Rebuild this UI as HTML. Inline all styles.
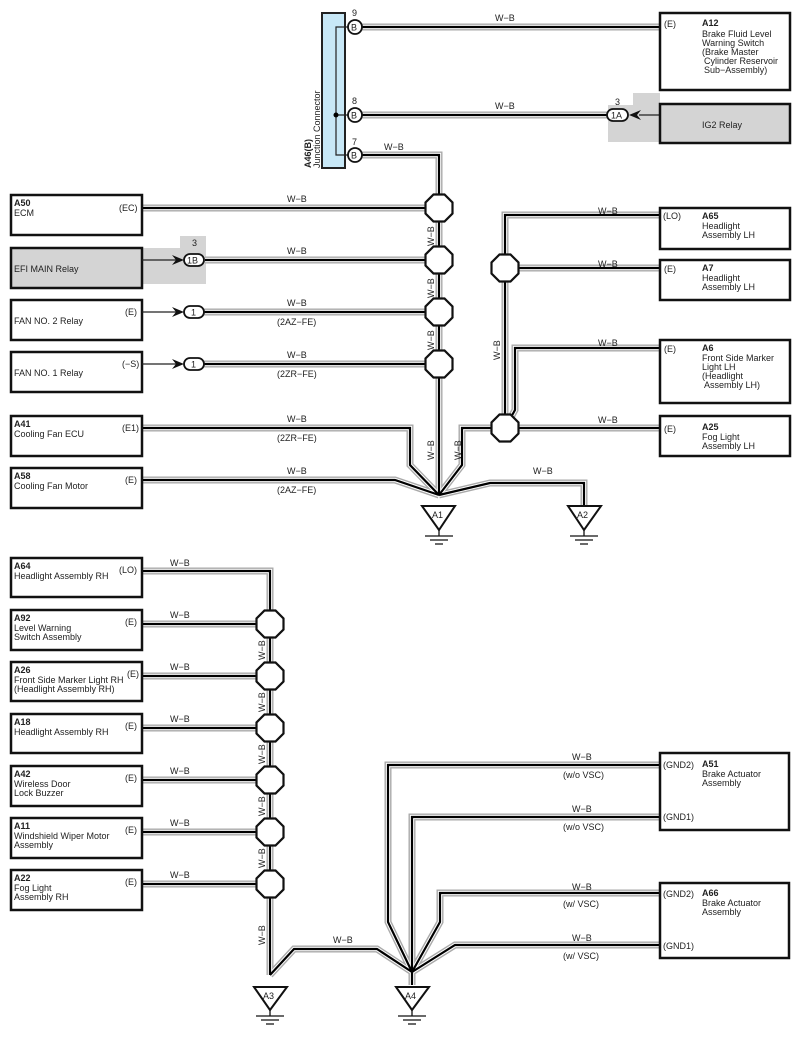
<!DOCTYPE html>
<html><head><meta charset="utf-8"><style>
html,body{margin:0;padding:0;background:#fff}
svg{display:block}
text{font-family:"Liberation Sans",sans-serif;font-size:9px;fill:#222}
.b{font-weight:bold}
.box{fill:#fff;stroke:#111;stroke-width:2.5}
.gbox{fill:#d4d4d4;stroke:#111;stroke-width:2.5}
.oct{fill:#fff;stroke:#111;stroke-width:2.2}
.thin{stroke:#222;stroke-width:1.2;fill:none}
</style></head><body>
<svg width="800" height="1040" viewBox="0 0 800 1040" xmlns="http://www.w3.org/2000/svg">
<defs>
<polygon id="oc" points="-5.5,-13.5 5.5,-13.5 13.5,-5.5 13.5,5.5 5.5,13.5 -5.5,13.5 -13.5,5.5 -13.5,-5.5"/>
<g id="wires">
<path d="M362,27 H660"/>
<path d="M362,115 H608"/>
<path d="M362,155 H439 V495"/>
<path d="M142,208 H439"/>
<path d="M205,260 H439"/>
<path d="M200,312 H439"/>
<path d="M200,364 H439"/>
<path d="M142,428 H410 V465 L439,495"/>
<path d="M142,480 H395 L439,495"/>
<path d="M660,215 H505 V428"/>
<path d="M660,268 H505"/>
<path d="M660,348 H515 V410 L505,428"/>
<path d="M660,428 H462 V465 L439,495"/>
<path d="M439,495 L490,483 H584 V508"/>
<path d="M142,571 H270 V975"/>
<path d="M142,624 H270"/>
<path d="M142,676 H270"/>
<path d="M142,728 H270"/>
<path d="M142,780 H270"/>
<path d="M142,832 H270"/>
<path d="M142,884 H270"/>
<path d="M270,975 L294,949 H377 L412,972"/>
<path d="M660,765 H388 V922 L412,972"/>
<path d="M660,817 H412 V985"/>
<path d="M660,893 H440 V922 L412,972"/>
<path d="M660,945 H455 L412,972"/>
</g>
</defs>

<path d="M180,236 H206 V284 H142 V248 H180 Z" fill="#d4d4d4"/>
<path d="M633,93 H660 V142 H608 V105 H633 Z" fill="#d4d4d4"/>

<use href="#wires" stroke="#aaa" stroke-width="7" fill="none"/>
<use href="#wires" stroke="#fff" stroke-width="4.2" fill="none"/>
<use href="#wires" stroke="#000" stroke-width="2.2" fill="none"/>

<rect x="322" y="13" width="23" height="155" fill="#c8e8f7" stroke="#222" stroke-width="2"/>
<path class="thin" d="M349,27 H336 V155 H349 M336,115 H349"/>
<circle cx="336" cy="115" r="2.5" fill="#000"/>
<g stroke="#111" stroke-width="1.8" fill="#fff">
<circle cx="355" cy="27" r="7"/><circle cx="355" cy="115" r="7"/><circle cx="355" cy="155" r="7"/>
</g>
<text x="351" y="30.5">B</text><text x="351" y="118.5">B</text><text x="351" y="158.5">B</text>
<text x="352" y="16">9</text><text x="352" y="104">8</text><text x="352" y="145">7</text>
<text class="b" transform="translate(311,168) rotate(-90)">A46(B)</text>
<text transform="translate(320,168) rotate(-90)">Junction Connector</text>

<rect class="box" x="11" y="195" width="131" height="40"/>
<text class="b" x="14" y="206">A50</text><text x="14" y="216">ECM</text><text x="119" y="211">(EC)</text>
<rect class="gbox" x="11" y="248" width="131" height="40"/>
<text x="14" y="272">EFI MAIN Relay</text>
<rect class="box" x="11" y="300" width="131" height="40"/>
<text x="14" y="324">FAN NO. 2 Relay</text><text x="125" y="315">(E)</text>
<rect class="box" x="11" y="352" width="131" height="40"/>
<text x="14" y="376">FAN NO. 1 Relay</text><text x="122" y="367">(−S)</text>
<rect class="box" x="11" y="416" width="131" height="40"/>
<text class="b" x="14" y="427">A41</text><text x="14" y="437">Cooling Fan ECU</text><text x="122" y="431">(E1)</text>
<rect class="box" x="11" y="468" width="131" height="40"/>
<text class="b" x="14" y="479">A58</text><text x="14" y="489">Cooling Fan Motor</text><text x="125" y="483">(E)</text>

<path class="thin" d="M142,260 H176 M142,312 H176 M142,364 H176"/>
<g fill="#111">
<path d="M172,255 L184,260 L172,265 L176,260 Z"/>
<path d="M172,307 L184,312 L172,317 L176,312 Z"/>
<path d="M172,359 L184,364 L172,369 L176,364 Z"/>
<path d="M641,110 L629,115 L641,120 L637,115 Z"/>
</g>
<path class="thin" d="M639,115 H660"/>
<g stroke="#111" stroke-width="1.8" fill="#fff">
<rect x="184" y="254" width="20" height="12" rx="6"/>
<rect x="184" y="306" width="20" height="12" rx="6"/>
<rect x="184" y="358" width="20" height="12" rx="6"/>
<rect x="607" y="109" width="21" height="12" rx="6"/>
</g>
<text x="187" y="263.5">1B</text><text x="191" y="315.5">1</text><text x="191" y="367.5">1</text><text x="611" y="118.5">1A</text>
<text x="192" y="246">3</text><text x="615" y="105">3</text>

<rect class="box" x="660" y="13" width="130" height="77"/>
<text x="664" y="27">(E)</text>
<text class="b" x="702" y="26">A12</text>
<text x="702" y="37">Brake Fluid Level</text><text x="702" y="46">Warning Switch</text><text x="702" y="55">(Brake Master</text><text x="704" y="64">Cylinder Reservoir</text><text x="704" y="73">Sub−Assembly)</text>
<rect class="gbox" x="660" y="104" width="130" height="39"/>
<text x="702" y="128">IG2 Relay</text>
<rect class="box" x="660" y="208" width="130" height="41"/>
<text x="663" y="219">(LO)</text><text class="b" x="702" y="219">A65</text><text x="702" y="229">Headlight</text><text x="702" y="238">Assembly LH</text>
<rect class="box" x="660" y="260" width="130" height="40"/>
<text x="664" y="272">(E)</text><text class="b" x="702" y="271">A7</text><text x="702" y="281">Headlight</text><text x="702" y="290">Assembly LH</text>
<rect class="box" x="660" y="340" width="130" height="63"/>
<text x="664" y="352">(E)</text><text class="b" x="702" y="351">A6</text><text x="702" y="361">Front Side Marker</text><text x="702" y="370">Light LH</text><text x="702" y="379">(Headlight</text><text x="704" y="388">Assembly LH)</text>
<rect class="box" x="660" y="416" width="130" height="40"/>
<text x="664" y="432">(E)</text><text class="b" x="702" y="430">A25</text><text x="702" y="440">Fog Light</text><text x="702" y="449">Assembly LH</text>

<g>
<text x="495" y="21">W−B</text><text x="495" y="109">W−B</text><text x="384" y="150">W−B</text>
<text x="287" y="202">W−B</text><text x="287" y="254">W−B</text><text x="287" y="306">W−B</text>
<text x="277" y="325">(2AZ−FE)</text><text x="287" y="358">W−B</text><text x="277" y="377">(2ZR−FE)</text>
<text x="287" y="422">W−B</text><text x="277" y="441">(2ZR−FE)</text>
<text x="287" y="474">W−B</text><text x="277" y="493">(2AZ−FE)</text>
<text x="598" y="214">W−B</text><text x="598" y="267">W−B</text><text x="598" y="346">W−B</text><text x="598" y="423">W−B</text>
<text x="533" y="474">W−B</text>
<text transform="translate(434,246) rotate(-90)">W−B</text>
<text transform="translate(434,298) rotate(-90)">W−B</text>
<text transform="translate(434,350) rotate(-90)">W−B</text>
<text transform="translate(434,460) rotate(-90)">W−B</text>
<text transform="translate(461,460) rotate(-90)">W−B</text>
<text transform="translate(500,360) rotate(-90)">W−B</text>
</g>

<g class="oct">
<use href="#oc" x="439" y="208" class="oct"/><use href="#oc" x="439" y="260" class="oct"/>
<use href="#oc" x="439" y="312" class="oct"/><use href="#oc" x="439" y="364" class="oct"/>
<use href="#oc" x="505" y="268" class="oct"/><use href="#oc" x="505" y="428" class="oct"/>
</g>

<g stroke="#111" stroke-width="2" fill="#fff">
<path d="M422,506 H455 L439,530 Z"/><path d="M568,506 H601 L584,530 Z"/>
<path d="M254,987 H287 L270,1010 Z"/><path d="M396,987 H429 L412,1010 Z"/>
</g>
<g stroke="#111" stroke-width="1.3">
<path d="M439,530 V536 M425,536 H453 M430,540 H448 M435,544 H443"/>
<path d="M584,530 V536 M570,536 H598 M575,540 H593 M580,544 H588"/>
<path d="M270,1010 V1016 M256,1016 H284 M261,1020 H279 M266,1024 H274"/>
<path d="M412,1010 V1016 M398,1016 H426 M403,1020 H421 M408,1024 H416"/>
</g>
<text x="432" y="518">A1</text><text x="577" y="518">A2</text><text x="263" y="999">A3</text><text x="405" y="999">A4</text>

<rect class="box" x="11" y="558" width="131" height="39"/>
<text class="b" x="14" y="569">A64</text><text x="14" y="579">Headlight Assembly RH</text><text x="119" y="573">(LO)</text>
<rect class="box" x="11" y="610" width="131" height="40"/>
<text class="b" x="14" y="621">A92</text><text x="14" y="631">Level Warning</text><text x="14" y="640">Switch Assembly</text><text x="125" y="625">(E)</text>
<rect class="box" x="11" y="662" width="131" height="39"/>
<text class="b" x="14" y="673">A26</text><text x="14" y="683">Front Side Marker Light RH</text><text x="14" y="692">(Headlight Assembly RH)</text><text x="127" y="677">(E)</text>
<rect class="box" x="11" y="714" width="131" height="39"/>
<text class="b" x="14" y="725">A18</text><text x="14" y="735">Headlight Assembly RH</text><text x="125" y="729">(E)</text>
<rect class="box" x="11" y="766" width="131" height="40"/>
<text class="b" x="14" y="777">A42</text><text x="14" y="787">Wireless Door</text><text x="14" y="796">Lock Buzzer</text><text x="125" y="781">(E)</text>
<rect class="box" x="11" y="818" width="131" height="40"/>
<text class="b" x="14" y="829">A11</text><text x="14" y="839">Windshield Wiper Motor</text><text x="14" y="848">Assembly</text><text x="125" y="833">(E)</text>
<rect class="box" x="11" y="870" width="131" height="40"/>
<text class="b" x="14" y="881">A22</text><text x="14" y="891">Fog Light</text><text x="14" y="900">Assembly RH</text><text x="125" y="885">(E)</text>

<rect class="box" x="660" y="753" width="129" height="77"/>
<text x="663" y="768">(GND2)</text><text class="b" x="702" y="767">A51</text><text x="702" y="777">Brake Actuator</text><text x="702" y="786">Assembly</text><text x="663" y="820">(GND1)</text>
<rect class="box" x="660" y="883" width="129" height="75"/>
<text x="663" y="897">(GND2)</text><text class="b" x="702" y="896">A66</text><text x="702" y="906">Brake Actuator</text><text x="702" y="915">Assembly</text><text x="663" y="949">(GND1)</text>

<text x="170" y="566">W−B</text><text x="170" y="618">W−B</text><text x="170" y="670">W−B</text><text x="170" y="722">W−B</text>
<text x="170" y="774">W−B</text><text x="170" y="826">W−B</text><text x="170" y="878">W−B</text>
<text x="333" y="943">W−B</text>
<text x="572" y="760">W−B</text><text x="563" y="778">(w/o VSC)</text>
<text x="572" y="812">W−B</text><text x="563" y="830">(w/o VSC)</text>
<text x="572" y="890">W−B</text><text x="563" y="907">(w/ VSC)</text>
<text x="572" y="941">W−B</text><text x="563" y="959">(w/ VSC)</text>
<text transform="translate(265,660) rotate(-90)">W−B</text>
<text transform="translate(265,712) rotate(-90)">W−B</text>
<text transform="translate(265,764) rotate(-90)">W−B</text>
<text transform="translate(265,816) rotate(-90)">W−B</text>
<text transform="translate(265,868) rotate(-90)">W−B</text>
<text transform="translate(265,945) rotate(-90)">W−B</text>

<g class="oct">
<use href="#oc" x="270" y="624" class="oct"/><use href="#oc" x="270" y="676" class="oct"/>
<use href="#oc" x="270" y="728" class="oct"/><use href="#oc" x="270" y="780" class="oct"/>
<use href="#oc" x="270" y="832" class="oct"/><use href="#oc" x="270" y="884" class="oct"/>
</g>
</svg>
</body></html>
